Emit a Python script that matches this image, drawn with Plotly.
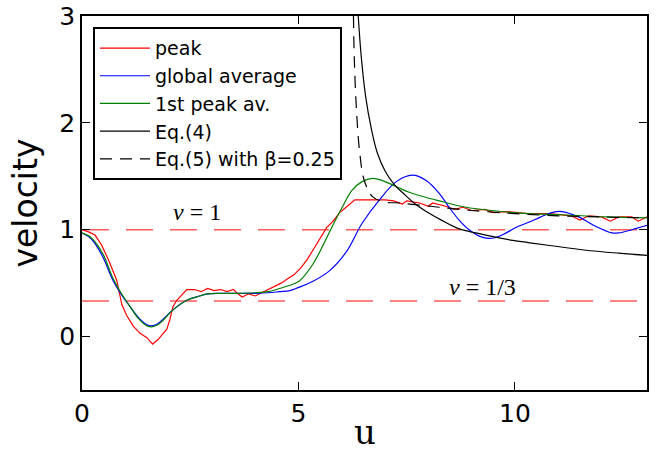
import plotly.graph_objects as go

# peak velocity (red, step-like)
u_peak = [0, 0.15, 0.3, 0.45, 0.63, 0.8, 0.92, 1.03, 1.18, 1.34, 1.5, 1.63, 1.75, 1.86, 1.96, 2.03,
          2.1, 2.19, 2.42, 2.6, 2.75, 2.9, 3.05, 3.2, 3.35, 3.5, 3.6, 3.7, 3.85, 4.0, 4.15, 4.3,
          4.45, 4.6, 4.75, 4.9, 5.05, 5.2, 5.35, 5.5, 5.65, 5.8, 5.95, 6.1, 6.3, 6.6, 7.0, 7.2,
          7.4, 7.5, 7.8, 8.0, 8.1, 8.4, 8.6, 8.8, 9.0, 9.3, 9.5, 9.8, 10.3, 10.8, 11.0, 11.3,
          11.5, 11.7, 12.0, 12.2, 12.4, 12.7, 12.85, 13.05]
v_peak = [1.00, 0.98, 0.95, 0.86, 0.70, 0.53, 0.30, 0.20, 0.10, 0.03, -0.01, -0.07, -0.03, 0.02, 0.07, 0.16,
          0.28, 0.34, 0.44, 0.44, 0.42, 0.45, 0.43, 0.44, 0.42, 0.44, 0.40, 0.37, 0.40, 0.38, 0.41, 0.44,
          0.47, 0.50, 0.54, 0.58, 0.64, 0.72, 0.82, 0.92, 1.02, 1.08, 1.16, 1.21, 1.28, 1.28, 1.28, 1.27,
          1.24, 1.27, 1.25, 1.22, 1.25, 1.22, 1.19, 1.21, 1.18, 1.19, 1.16, 1.17, 1.15, 1.15, 1.14, 1.13,
          1.09, 1.13, 1.12, 1.08, 1.12, 1.12, 1.08, 1.12]

# global average (blue)
u_glob = [0, 0.2, 0.35, 0.5, 0.71, 0.9, 1.11, 1.3, 1.5, 1.61, 1.75, 1.87, 2.1, 2.42, 2.72, 2.9,
          3.2, 3.6, 4.0, 4.3, 4.56, 4.8, 5.0, 5.3, 5.7, 6.1, 6.47, 6.87, 7.26, 7.63, 7.95, 8.25,
          8.48, 8.71, 8.94, 9.24, 9.47, 9.7, 10.02, 10.32, 10.6, 10.85, 11.08, 11.47, 11.87, 12.24,
          12.4, 12.7, 13.05]
v_glob = [0.97, 0.92, 0.84, 0.73, 0.53, 0.40, 0.28, 0.18, 0.11, 0.10, 0.12, 0.16, 0.25, 0.34, 0.38, 0.40,
          0.405, 0.405, 0.405, 0.41, 0.42, 0.43, 0.46, 0.51, 0.61, 0.79, 1.06, 1.28, 1.45, 1.51, 1.46, 1.34,
          1.21, 1.09, 1.00, 0.93, 0.92, 0.95, 1.02, 1.07, 1.12, 1.16, 1.17, 1.12, 1.03, 0.97,
          0.97, 1.00, 1.04]

# 1st peak average (green)
u_first = [0, 0.2, 0.35, 0.5, 0.71, 0.9, 1.11, 1.3, 1.5, 1.61, 1.75, 1.87, 2.1, 2.42, 2.72, 2.9,
           3.2, 3.6, 4.0, 4.3, 4.56, 4.8, 5.02, 5.32, 5.55, 5.78, 6.01, 6.24, 6.47, 6.71, 6.94, 7.17,
           7.33, 7.56, 7.79, 8.25, 8.87, 9.47, 10.32, 11.08, 12.1, 13.05]
v_first = [0.97, 0.93, 0.86, 0.76, 0.55, 0.41, 0.28, 0.17, 0.10, 0.09, 0.11, 0.15, 0.25, 0.34, 0.38, 0.40,
           0.405, 0.405, 0.41, 0.42, 0.45, 0.48, 0.52, 0.67, 0.84, 1.03, 1.21, 1.37, 1.45, 1.48, 1.46, 1.42,
           1.39, 1.35, 1.32, 1.27, 1.21, 1.18, 1.15, 1.14, 1.12, 1.11]

# Eq.(4) (black solid)
u_eq4 = [6.38, 6.45, 6.55, 6.68, 6.82, 7.0, 7.2, 7.45, 7.7, 7.95, 8.3, 8.7, 9.1, 9.55, 9.95, 10.3,
         10.85, 11.6, 12.4, 13.05]
v_eq4 = [3.0, 2.62, 2.25, 1.95, 1.72, 1.55, 1.43, 1.33, 1.24, 1.17, 1.09, 1.01, 0.97, 0.93, 0.90, 0.88,
         0.85, 0.81, 0.78, 0.76]

# Eq.(5) with beta=0.25 (black dashed)
u_eq5 = [6.27, 6.29, 6.34, 6.41, 6.52, 6.71, 6.98, 7.33, 7.8, 8.25, 9.0, 10.0, 11.0, 12.0, 13.05]
v_eq5 = [3.0, 2.59, 2.12, 1.74, 1.46, 1.31, 1.26, 1.25, 1.23, 1.21, 1.18, 1.15, 1.13, 1.12, 1.11]

ref_levels = [1, 1/3]
ref_labels = ['<i>v</i> = 1', '<i>v</i> = 1/3']
ref_label_u = [2.65, 9.26]
ref_label_v = [1.17, 0.46]

x_range = [0, 13.05]
y_range = [-0.5, 3]

fig = go.Figure()

for lvl in ref_levels:
    fig.add_trace(go.Scatter(x=x_range, y=[lvl, lvl], mode='lines', showlegend=False,
                             line=dict(color='#ff5a5a', width=1.5, dash='27px,17px'),
                             hoverinfo='skip'))

fig.add_trace(go.Scatter(x=u_peak, y=v_peak, mode='lines', name='peak',
                         line=dict(color='#ff0000', width=1.2)))
fig.add_trace(go.Scatter(x=u_glob, y=v_glob, mode='lines', name='global average',
                         line=dict(color='#0000ff', width=1.2, shape='spline')))
fig.add_trace(go.Scatter(x=u_first, y=v_first, mode='lines', name='1st peak av.',
                         line=dict(color='#008000', width=1.2, shape='spline')))
fig.add_trace(go.Scatter(x=u_eq4, y=v_eq4, mode='lines', name='Eq.(4)',
                         line=dict(color='black', width=1.2, shape='spline')))
fig.add_trace(go.Scatter(x=u_eq5, y=v_eq5, mode='lines', name='Eq.(5) with β=0.25',
                         line=dict(color='black', width=1.2, shape='spline', dash='12px,8px')))

for txt, xu, yv in zip(ref_labels, ref_label_u, ref_label_v):
    fig.add_annotation(x=xu, y=yv, text=txt, showarrow=False,
                       font=dict(family='Liberation Serif', size=24, color='black'))

# axis titles
fig.add_annotation(x=0.5, y=0, xref='paper', yref='paper', yanchor='top', yshift=-20,
                   text='u', showarrow=False,
                   font=dict(family='DejaVu Serif', size=34, color='black'))
fig.add_annotation(x=0, y=0.5, xref='paper', yref='paper', xanchor='right', xshift=-36,
                   text='velocity', showarrow=False, textangle=-90,
                   font=dict(family='DejaVu Sans', size=33, color='black'))

axis_style = dict(showline=True, linecolor='black', linewidth=1.5, mirror='ticks',
                  ticks='inside', ticklen=8, tickcolor='black', tickwidth=1,
                  showgrid=False, zeroline=False, automargin=False,
                  tickfont=dict(family='DejaVu Sans', size=25, color='black'))

fig.update_xaxes(range=x_range, tickvals=[0, 5, 10], **axis_style)
fig.update_yaxes(range=y_range, tickvals=[0, 1, 2, 3], **axis_style)

fig.update_layout(
    width=657, height=452,
    margin=dict(l=82, r=10, t=16, b=62),
    plot_bgcolor='white', paper_bgcolor='white',
    legend=dict(x=0.0195, y=0.97, xanchor='left', yanchor='top',
                bgcolor='white', bordercolor='black', borderwidth=2,
                font=dict(family='DejaVu Sans', size=19, color='black'),
                itemwidth=50, tracegroupgap=0),
)

# drop the default 8px body margin so the figure fills the window
fig.write_html("out.html", config={'displayModeBar': False},
               post_script="document.body.style.margin='0px';")
